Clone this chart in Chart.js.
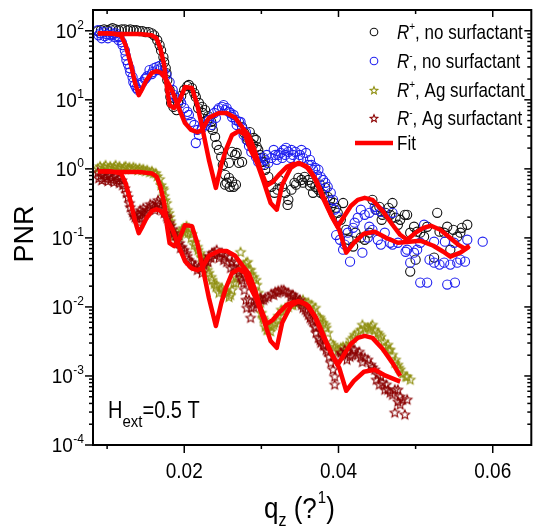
<!DOCTYPE html>
<html>
<head>
<meta charset="utf-8">
<script src="https://cdn.jsdelivr.net/npm/chart.js@4.4.1/dist/chart.umd.min.js"></script>
<style>
  html, body { margin: 0; padding: 0; background: #fff; }
  canvas { display: block; }
</style>
</head>
<body>
<canvas id="pnr" width="537" height="529"></canvas>
<script>
// ---- R+ , no surfactant (black circles) ----
const blackQ = [0.0088,0.0092,0.0096,0.0100,0.0104,0.0107,0.0111,0.0115,0.0119,0.0123,0.0127,0.0130,0.0134,0.0138,0.0142,0.0146,0.0150,0.0154,0.0158,0.0161,
  0.0165,0.0168,0.0170,0.0173,0.0174,0.0176,0.0177,0.0178,0.0181,0.0182,0.0183,0.0186,0.0190,0.0192,0.0196,0.0200,0.0204,0.0206,0.0210,0.0213,
  0.0215,0.0219,0.0223,0.0227,0.0231,0.0235,0.0237,0.0240,0.0242,0.0245,0.0248,0.0250,0.0253,0.0255,0.0258,0.0258,0.0259,0.0262,0.0262,0.0264,
  0.0266,0.0267,0.0268,0.0271,0.0275,0.0275,0.0278,0.0282,0.0286,0.0290,0.0294,0.0298,0.0302,0.0305,0.0309,0.0313,0.0317,0.0321,0.0323,0.0327,
  0.0331,0.0334,0.0335,0.0339,0.0343,0.0348,0.0352,0.0356,0.0361,0.0365,0.0370,0.0374,0.0377,0.0383,0.0386,0.0390,0.0394,0.0399,0.0403,0.0406,
  0.0410,0.0413,0.0419,0.0422,0.0429,0.0434,0.0440,0.0444,0.0449,0.0453,0.0457,0.0461,0.0465,0.0470,0.0474,0.0480,0.0486,0.0489,0.0493,0.0493,
  0.0498,0.0500,0.0502,0.0506,0.0511,0.0515,0.0524,0.0528,0.0531,0.0537,0.0541,0.0545,0.0549,0.0554,0.0558,0.0560,0.0567,
  0.0218,0.0224,0.0230,0.0234,0.0281,0.0285,0.0289,0.0293,0.0296,0.0299,0.0304,0.0253,0.0345,0.0354,0.0363,0.0367,0.0376,0.0381,0.0389,0.0397,
  0.0456,0.0467,0.0477];
const blackR = [99,102,105,102,105,109,105,102,105,105,102,105,102,102,99,99,95.5,95.5,92,86,
  73,62,52,41.5,35,28.8,24.4,19.3,13.9,11,9,7.9,7.1,9,11.4,13.9,15.8,16.4,14.8,12.5,
  11,9,7.9,7.1,5.8,4.78,3.66,2.9,2.22,1.88,1.49,1.14,0.82,0.63,0.74,1.22,0.55,1.76,0.65,0.55,
  1.59,0.59,1.70,1.22,1.26,4.05,3.31,2.62,2.37,2.8,2.08,1.59,1.26,0.97,0.766,0.55,0.45,0.50,0.69,0.55,
  0.45,0.30,0.356,0.50,0.628,0.74,0.69,0.766,0.69,0.628,0.55,0.50,0.45,0.53,0.394,0.282,0.32,0.231,0.183,0.32,
  0.131,0.094,0.075,0.119,0.101,0.094,0.119,0.356,0.256,0.282,0.216,0.231,0.273,0.32,0.196,0.183,0.216,0.216,0.119,0.0325,
  0.145,0.0484,0.123,0.119,0.104,0.145,0.0518,0.231,0.123,0.119,0.145,0.0675,0.131,0.104,0.119,0.14,0.155,
  7.6,6.44,5.1,4.05,2.9,3.4,2.22,2.62,1.88,1.44,1.14,0.59,0.59,0.63,0.57,0.45,0.59,0.42,0.356,0.273,
  0.183,0.216,0.155];

// ---- R- , no surfactant (blue circles) ----
const blueQ = [0.0088,0.0089,0.0091,0.0093,0.0096,0.0097,0.0100,0.0101,0.0104,0.0105,0.0107,0.0110,0.0111,0.0114,0.0115,0.0116,0.0119,0.0120,0.0123,0.0124,
  0.0125,0.0127,0.0129,0.0130,0.0133,0.0134,0.0136,0.0138,0.0140,0.0142,0.0143,0.0146,0.0149,0.0150,0.0152,0.0155,0.0158,0.0159,0.0161,0.0164,
  0.0165,0.0168,0.0170,0.0173,0.0177,0.0181,0.0185,0.0187,0.0190,0.0194,0.0196,0.0200,0.0204,0.0206,0.0209,0.0213,0.0215,0.0217,0.0219,0.0223,
  0.0228,0.0232,0.0236,0.0241,0.0245,0.0249,0.0253,0.0258,0.0262,0.0267,0.0271,0.0275,0.0277,0.0281,0.0284,0.0287,0.0293,0.0296,0.0300,0.0305,
  0.0309,0.0313,0.0318,0.0322,0.0325,0.0329,0.0331,0.0335,0.0339,0.0344,0.0348,0.0352,0.0358,0.0361,0.0365,0.0370,0.0374,0.0377,0.0380,0.0386,
  0.0390,0.0393,0.0395,0.0399,0.0402,0.0406,0.0412,0.0415,0.0421,0.0429,0.0431,0.0438,0.0440,0.0440,0.0447,0.0448,0.0455,0.0455,0.0460,0.0467,
  0.0470,0.0470,0.0477,0.0487,0.0489,0.0493,0.0498,0.0502,0.0506,0.0506,0.0511,0.0515,0.0518,0.0524,0.0524,0.0531,0.0537,0.0538,0.0541,0.0545,
  0.0550,0.0551,0.0554,0.0558,0.0564,0.0567,0.0587,
  0.0239,0.0243,0.0251,0.0255,0.0260,0.0264,0.0268,0.0273,0.0280,0.0303,0.0307,0.0316,0.0320,0.0327,0.0332,0.0338,0.0341,0.0350,0.0354,0.0363,
  0.0367,0.0372,0.0383,0.0397,0.0408,0.0419,0.0425,0.0434,0.0444,0.0451];
const blueR = [102,86,92,78,95.5,83.5,89,78,95.5,86,89,80.9,92,83.5,73,81,68.4,62,52,44,
  37.6,33,28.8,25.2,21.3,18.1,16.4,14.8,13.9,16.4,17.5,18.1,20,20.6,22,27,23.6,25.2,28.8,29.8,
  27,30.9,28.8,25.2,22.8,18.1,13.9,11.7,10.6,9.9,9,7.6,6.7,6.03,4.78,4.32,2.37,3.66,3.1,3.9,
  4.32,5.1,4.32,5.46,7.6,7.9,7.1,6.7,5.64,5.1,4.78,3.9,3.1,2.62,2.15,1.76,1.49,1.26,1.14,1.35,
  1.22,1.44,1.59,1.59,1.70,1.88,1.59,1.76,1.88,1.76,1.35,1.88,1.70,1.14,1.14,1.03,0.97,0.766,0.69,0.55,
  0.45,0.356,0.256,0.202,0.094,0.0675,0.119,0.0453,0.166,0.256,0.061,0.101,0.145,0.231,0.282,0.256,0.239,0.080,0.119,0.085,
  0.231,0.080,0.085,0.063,0.0675,0.0438,0.061,0.0675,0.085,0.0225,0.155,0.0225,0.0484,0.0438,0.088,0.041,0.0438,0.088,0.0211,0.041,
  0.085,0.0225,0.0438,0.0484,0.0453,0.094,0.088,
  6.44,7.1,8.4,7.6,6.44,6.03,4.32,4.78,3.4,1.44,1.59,1.88,1.35,1.44,2.01,1.44,1.59,1.59,1.44,1.35,
  0.97,0.82,0.628,0.11,0.08,0.14,0.196,0.216,0.131,0.094];

// ---- R+ , Ag surfactant (olive stars) ----
const oliveQ = [0.0088,0.0091,0.0093,0.0096,0.0098,0.0101,0.0104,0.0106,0.0109,0.0111,0.0114,0.0116,0.0119,0.0122,0.0124,0.0127,0.0129,0.0132,0.0134,0.0137,
  0.0140,0.0142,0.0145,0.0147,0.0150,0.0152,0.0155,0.0158,0.0160,0.0163,0.0165,0.0168,0.0170,0.0173,0.0174,0.0177,0.0178,0.0181,0.0183,0.0185,
  0.0187,0.0191,0.0195,0.0199,0.0203,0.0206,0.0210,0.0214,0.0218,0.0222,0.0226,0.0228,0.0232,0.0236,0.0239,0.0241,0.0245,0.0248,0.0251,0.0254,
  0.0258,0.0262,0.0264,0.0267,0.0271,0.0273,0.0276,0.0280,0.0284,0.0287,0.0290,0.0294,0.0296,0.0299,0.0300,0.0303,0.0305,0.0309,0.0313,0.0316,
  0.0318,0.0322,0.0326,0.0331,0.0335,0.0339,0.0344,0.0348,0.0352,0.0357,0.0361,0.0365,0.0370,0.0374,0.0377,0.0380,0.0384,0.0386,0.0390,0.0395,
  0.0399,0.0403,0.0406,0.0410,0.0412,0.0416,0.0421,0.0425,0.0429,0.0434,0.0438,0.0442,0.0447,0.0451,0.0455,0.0459,0.0461,0.0465,0.0467,0.0473,
  0.0477,0.0480,0.0483,0.0487,0.0489,0.0493,
  0.0172,0.0175,0.0180,0.0182,0.0186,0.0194,0.0197,0.0201,0.0205,0.0209,0.0213,0.0217,0.0221,0.0225,0.0230,0.0235,0.0242,0.0249,0.0255,0.0260,
  0.0268,0.0277,0.0282,0.0286,0.0293,0.0298,0.0302,0.0307,0.0312,0.0321,0.0328,0.0341,0.0354,0.0367,0.0376,0.0383,0.0393,0.0402,0.0419,0.0431,
  0.0440,0.0444,0.0453,0.0464,0.0470,0.0474,0.0478];
const oliveR = [1.03,1.10,0.97,1.07,1.14,1.03,1.10,1.00,1.07,1.14,1.03,1.10,1.00,1.07,1.10,1.03,1.07,1.00,1.07,1.03,
  0.97,1.03,0.97,1.00,0.935,0.97,0.905,0.935,0.875,0.875,0.79,0.717,0.587,0.50,0.407,0.323,0.256,0.202,0.155,0.131,
  0.108,0.101,0.119,0.14,0.15,0.14,0.115,0.088,0.0675,0.0535,0.0453,0.0384,0.0314,0.0249,0.0218,0.0197,0.0162,0.0178,0.0167,0.0178,
  0.0141,0.0178,0.0225,0.0225,0.0314,0.063,0.0371,0.0438,0.0347,0.0304,0.0275,0.0211,0.0162,0.0116,0.0083,0.00658,0.00521,0.00471,0.00521,0.00557,
  0.00595,0.0075,0.0092,0.0098,0.0101,0.0108,0.0116,0.012,0.012,0.0116,0.0116,0.0108,0.0098,0.00726,0.00658,0.00595,0.00504,0.00427,0.00306,0.00259,
  0.00242,0.00259,0.00268,0.00277,0.00268,0.00338,0.00399,0.00427,0.00471,0.00504,0.00504,0.00521,0.00471,0.00427,0.00373,0.00316,0.00268,0.00242,0.00242,0.00157,
  0.00147,0.00125,0.00109,0.000987,0.000987,0.000893,
  0.53,0.356,0.231,0.177,0.119,0.108,0.131,0.123,0.119,0.101,0.08,0.075,0.061,0.0518,0.0347,0.0275,0.0211,0.019,0.0162,0.0151,
  0.0265,0.041,0.0453,0.0347,0.0249,0.0137,0.00703,0.00471,0.00448,0.00658,0.0087,0.0108,0.0128,0.0092,0.00703,0.00557,0.00286,0.00227,0.00361,0.00557,
  0.00471,0.00557,0.00399,0.00286,0.00205,0.00174,0.00133];

// ---- R- , Ag surfactant (dark red stars) ----
const darkQ = [0.0088,0.0089,0.0092,0.0093,0.0096,0.0097,0.0100,0.0101,0.0104,0.0105,0.0107,0.0109,0.0111,0.0113,0.0115,0.0116,0.0119,0.0120,0.0123,0.0125,
  0.0129,0.0133,0.0136,0.0138,0.0141,0.0142,0.0145,0.0146,0.0149,0.0152,0.0155,0.0159,0.0161,0.0165,0.0168,0.0170,0.0174,0.0178,0.0181,0.0185,
  0.0187,0.0191,0.0194,0.0197,0.0200,0.0203,0.0206,0.0210,0.0214,0.0219,0.0223,0.0226,0.0228,0.0232,0.0236,0.0239,0.0242,0.0246,0.0249,0.0253,
  0.0258,0.0262,0.0264,0.0267,0.0271,0.0275,0.0277,0.0280,0.0281,0.0284,0.0286,0.0290,0.0294,0.0296,0.0300,0.0305,0.0309,0.0313,0.0318,0.0322,
  0.0326,0.0331,0.0335,0.0339,0.0341,0.0345,0.0348,0.0352,0.0357,0.0361,0.0365,0.0369,0.0371,0.0374,0.0377,0.0381,0.0384,0.0388,0.0390,0.0393,
  0.0395,0.0395,0.0399,0.0403,0.0408,0.0412,0.0415,0.0419,0.0421,0.0425,0.0429,0.0434,0.0438,0.0442,0.0447,0.0451,0.0455,0.0457,0.0460,0.0464,
  0.0467,0.0473,0.0477,0.0480,0.0483,0.0489,0.0480,0.0473,0.0486,
  0.0127,0.0130,0.0134,0.0140,0.0143,0.0147,0.0151,0.0156,0.0162,0.0166,0.0172,0.0177,0.0182,0.0189,0.0195,0.0204,0.0209,0.0217,0.0222,0.0231,
  0.0235,0.0240,0.0245,0.0251,0.0255,0.0260,0.0268,0.0273,0.0278,0.0287,0.0293,0.0299,0.0303,0.0316,0.0321,0.0329,0.0338,0.0344,0.0350,0.0354,
  0.0359,0.0363,0.0367,0.0371,0.0376,0.0380,0.0386,0.0406,0.0411,0.0417,0.0427,0.0431,0.0444,0.0449,0.0453,0.0462,0.0470,0.0477];
const darkR = [0.905,0.74,0.82,0.69,0.847,0.74,0.79,0.671,0.82,0.717,0.766,0.65,0.79,0.69,0.74,0.628,0.69,0.587,0.53,0.45,
  0.323,0.239,0.202,0.196,0.172,0.216,0.196,0.239,0.224,0.256,0.282,0.30,0.282,0.323,0.312,0.282,0.231,0.196,0.166,0.136,
  0.119,0.094,0.085,0.0746,0.0675,0.061,0.0484,0.0438,0.0397,0.0384,0.0314,0.041,0.0484,0.0553,0.061,0.063,0.0675,0.061,0.061,0.0553,
  0.0535,0.0453,0.0384,0.0453,0.0314,0.0249,0.0225,0.0128,0.0098,0.0128,0.00703,0.0101,0.0112,0.012,0.0128,0.0137,0.0141,0.0156,0.0167,0.0173,
  0.0178,0.0167,0.0162,0.0151,0.0151,0.0128,0.012,0.0108,0.0092,0.00777,0.00658,0.00521,0.00427,0.00361,0.00306,0.00277,0.00242,0.00192,0.00157,0.00125,
  0.000987,0.000757,0.00192,0.00219,0.00242,0.00227,0.00192,0.00242,0.00242,0.00205,0.00192,0.00186,0.00174,0.00147,0.00125,0.00105,0.000987,0.00081,0.00064,0.00064,
  0.00058,0.00064,0.00064,0.000507,0.000459,0.000459,0.000389,0.000298,0.000279,
  0.394,0.282,0.216,0.224,0.256,0.273,0.239,0.312,0.256,0.356,0.256,0.209,0.15,0.108,0.072,0.0553,0.0453,0.0347,0.0371,0.0453,
  0.0518,0.057,0.0518,0.0484,0.0453,0.0371,0.0347,0.0275,0.0178,0.0098,0.0128,0.0137,0.0128,0.0151,0.0162,0.0178,0.0141,0.0141,0.0128,0.0098,
  0.0086,0.00703,0.0062,0.00504,0.00338,0.00286,0.00227,0.00205,0.00174,0.00205,0.00227,0.00161,0.00135,0.000893,0.000757,0.000757,0.00054,0.00043];

// ---- fits (red) ----
const fitPlusQ = [0.0088,0.0116,0.0142,0.0158,0.0164,0.0169,0.0174,0.0178,0.0181,0.0187,0.0194,0.0201,0.0210,0.0217,0.0224,0.0232,0.0241,0.0248,0.0254,0.0262,
  0.0271,0.0279,0.0286,0.0294,0.0303,0.0312,0.0320,0.0327,0.0338,0.0348,0.0358,0.0369,0.0381,0.0392,0.0401,0.0410,0.0420,0.0433,0.0447,0.0461,
  0.0477,0.0492,0.0506,0.0523,0.0536,0.0545,0.0558,0.0569];
const fitPlusR = [92,90,90,86,78,56,32,13.9,8.4,7.6,9.9,15.3,14.8,8.4,3.66,1.35,0.53,1.14,1.88,3.1,
  3.54,3.1,1.88,1.26,0.65,0.32,0.256,0.59,1.03,1.22,1.10,0.74,0.356,0.196,0.131,0.061,0.085,0.115,0.123,0.101,
  0.085,0.088,0.091,0.077,0.063,0.0535,0.061,0.074];
const fitMinusQ = [0.0088,0.0104,0.0118,0.0124,0.0131,0.0136,0.0141,0.0146,0.0151,0.0158,0.0164,0.0170,0.0177,0.0185,0.0194,0.0201,0.0209,0.0217,0.0223,0.0232,
  0.0245,0.0255,0.0266,0.0276,0.0284,0.0291,0.0299,0.0307,0.0315,0.0324,0.0333,0.0342,0.0351,0.0361,0.0371,0.0381,0.0390,0.0399,0.0407,0.0416,
  0.0425,0.0434,0.0444,0.0457,0.0470,0.0480,0.0489,0.0500,0.0510,0.0520,0.0532,0.0543,0.0555,0.0564,0.0570];
const fitMinusR = [92,92,86,62,32,18,11.7,14.8,19.3,24.5,26,24.5,19.3,13,7.1,4.6,3.66,3.4,3.66,5.5,
  6.44,6.44,5.5,3.9,3.0,1.88,0.97,0.57,0.65,0.85,1.07,1.18,1.18,1.03,0.69,0.38,0.223,0.145,0.202,0.29,
  0.356,0.38,0.356,0.248,0.155,0.111,0.094,0.119,0.14,0.15,0.131,0.104,0.08,0.07,0.077];
const fitAgPlusQ = [0.0088,0.0116,0.0142,0.0158,0.0164,0.0169,0.0174,0.0178,0.0181,0.0187,0.0194,0.0201,0.0210,0.0217,0.0224,0.0232,0.0241,0.0248,0.0254,0.0262,
  0.0271,0.0279,0.0286,0.0294,0.0303,0.0312,0.0320,0.0327,0.0338,0.0348,0.0358,0.0369,0.0381,0.0392,0.0401,0.0410,0.0420,0.0433,0.0447,0.0461,0.0480];
const fitAgPlusR = [0.92,0.9,0.9,0.86,0.78,0.56,0.32,0.139,0.084,0.076,0.099,0.153,0.148,0.084,0.0366,0.0135,0.0053,0.0114,0.0188,0.031,
  0.0354,0.031,0.0188,0.0126,0.0065,0.0032,0.00256,0.0059,0.0103,0.0122,0.011,0.0074,0.00356,0.00196,0.00131,0.00061,0.00085,0.00115,0.00123,0.00101,0.00083];
const fitAgMinusQ = [0.0088,0.0104,0.0118,0.0124,0.0131,0.0136,0.0141,0.0146,0.0151,0.0158,0.0164,0.0170,0.0177,0.0185,0.0194,0.0201,0.0209,0.0217,0.0223,0.0232,
  0.0245,0.0255,0.0266,0.0276,0.0284,0.0291,0.0299,0.0307,0.0315,0.0324,0.0333,0.0342,0.0351,0.0361,0.0371,0.0381,0.0390,0.0399,0.0407,0.0416,
  0.0425,0.0434,0.0444,0.0457,0.0470,0.0480];
const fitAgMinusR = [0.92,0.92,0.86,0.62,0.32,0.18,0.117,0.148,0.193,0.245,0.26,0.245,0.193,0.13,0.071,0.046,0.0366,0.034,0.0366,0.055,
  0.0644,0.0644,0.055,0.039,0.030,0.0188,0.0097,0.0057,0.0065,0.0085,0.0107,0.0118,0.0118,0.0103,0.0069,0.0038,0.00223,0.00145,0.00202,0.0029,
  0.00356,0.0038,0.00356,0.00248,0.00155,0.00100];

// ---- axes ----
const xMajor = [0.02, 0.04, 0.06];
const xMinor = [0.01, 0.03, 0.05];
const yExp = [-4, -3, -2, -1, 0, 1, 2];

const FONT = '"Liberation Sans", Arial, sans-serif';
const RED = '#ff0000', BLACK = '#111111', BLUE = '#2020f0', OLIVE = '#8f8f10', DARK = '#8b0000';

const pts = (qs, rs) => qs.map((q, i) => ({ x: q, y: rs[i] }));

function starImage(color, r) {
  const c = document.createElement('canvas');
  const s = Math.ceil(r * 2 + 4);
  c.width = s; c.height = s;
  const g = c.getContext('2d');
  g.translate(s / 2, s / 2 + 0.6);
  g.beginPath();
  for (let i = 0; i < 10; i++) {
    const rad = i % 2 ? r * 0.45 : r;
    const a = -Math.PI / 2 + i * Math.PI / 5;
    g.lineTo(rad * Math.cos(a), rad * Math.sin(a));
  }
  g.closePath();
  g.strokeStyle = color;
  g.lineWidth = 1.1;
  g.stroke();
  return c;
}

function txt(ctx, s, x, y, size, opt = {}) {
  ctx.save();
  ctx.font = (opt.italic ? 'italic ' : '') + size + 'px ' + FONT;
  ctx.textAlign = opt.align || 'left';
  ctx.textBaseline = 'alphabetic';
  ctx.fillStyle = '#000';
  ctx.translate(x, y);
  ctx.scale(1, opt.sy || 1.15);
  ctx.fillText(s, 0, 0);
  const w = ctx.measureText(s).width;
  ctx.restore();
  return w;
}

function scatterSet(label, qs, rs, color, order, star) {
  return {
    label, data: pts(qs, rs), order,
    showLine: false,
    pointStyle: star ? starImage(color, 4.9) : 'circle',
    pointRadius: 4.6,
    pointBorderWidth: 1.1,
    borderColor: color,
    backgroundColor: 'rgba(0,0,0,0)'
  };
}

function fitSet(qs, rs) {
  return {
    label: 'Fit', data: pts(qs, rs), order: 0,
    showLine: true, pointRadius: 0, borderColor: RED,
    borderWidth: 4.5, tension: 0, borderJoinStyle: 'round', fill: false
  };
}

const frame = {
  id: 'frame',
  afterDraw(chart) {
    const { ctx, chartArea: a, scales: { x, y } } = chart;
    ctx.save();
    ctx.strokeStyle = '#000';
    ctx.lineWidth = 2;
    ctx.strokeRect(a.left, a.top, a.right - a.left, a.bottom - a.top);

    ctx.lineWidth = 1.5;
    const line = (x1, y1, x2, y2) => { ctx.beginPath(); ctx.moveTo(x1, y1); ctx.lineTo(x2, y2); ctx.stroke(); };

    // x ticks
    xMajor.forEach(v => {
      const px = x.getPixelForValue(v);
      line(px, a.bottom, px, a.bottom + 8);
      line(px, a.top, px, a.top + 7);
      txt(ctx, String(v), px, a.bottom + 33, 19, { align: 'center', sy: 1.2 });
    });
    xMinor.forEach(v => {
      const px = x.getPixelForValue(v);
      line(px, a.bottom, px, a.bottom + 4);
      line(px, a.top, px, a.top + 4);
    });

    // y ticks (log)
    yExp.forEach(e => {
      const py = y.getPixelForValue(Math.pow(10, e));
      line(a.left - 8, py, a.left, py);
      line(a.right - 7, py, a.right, py);
      const ew = txt(ctx, String(e), 84, py - 2, 12, { align: 'right', sy: 1.1 });
      txt(ctx, '10', 84 - ew - 0.5, py + 7, 19, { align: 'right', sy: 1.1 });
      if (e < 2) {
        for (let m = 2; m <= 9; m++) {
          const pm = y.getPixelForValue(m * Math.pow(10, e));
          line(a.left - 4, pm, a.left, pm);
          line(a.right - 4, pm, a.right, pm);
        }
      }
    });

    // axis titles
    ctx.save();
    ctx.translate(33, 234);
    ctx.rotate(-Math.PI / 2);
    ctx.font = '27px ' + FONT;
    ctx.textAlign = 'center';
    ctx.fillStyle = '#000';
    ctx.fillText('PNR', 0, 0);
    ctx.restore();

    let cx = 264;
    cx += txt(ctx, 'q', cx, 518, 26, { sy: 1.15 });
    cx += txt(ctx, 'z', cx, 526, 16, { sy: 1.1 });
    cx += txt(ctx, ' (?', cx, 518, 26, { sy: 1.15 });
    cx += txt(ctx, '1', cx + 1, 503, 15, { sy: 1.1 }) + 1;
    txt(ctx, ')', cx, 518, 26, { sy: 1.15 });

    // H_ext annotation
    let hx = 108;
    hx += txt(ctx, 'H', hx, 418, 20, { sy: 1.2 });
    hx += txt(ctx, 'ext', hx, 427, 15, { sy: 1.15 });
    txt(ctx, '=0.5 T', hx, 418, 20, { sy: 1.2 });

    // legend
    const rows = [
      { sup: '+', rest: ', no surfactant', color: BLACK, star: false, y: 32 },
      { sup: '-', rest: ', no surfactant', color: BLUE, star: false, y: 61 },
      { sup: '+', rest: ', Ag surfactant', color: OLIVE, star: true, y: 90 },
      { sup: '-', rest: ', Ag surfactant', color: DARK, star: true, y: 118 }
    ];
    rows.forEach(r => {
      if (r.star) {
        const img = starImage(r.color, 4);
        ctx.drawImage(img, 374 - img.width / 2, r.y - img.height / 2);
      } else {
        ctx.beginPath();
        ctx.arc(374, r.y, 3.8, 0, Math.PI * 2);
        ctx.strokeStyle = r.color;
        ctx.lineWidth = 1.1;
        ctx.stroke();
      }
      let lx = 397;
      lx += txt(ctx, 'R', lx, r.y + 7, 17, { italic: true });
      lx += txt(ctx, r.sup, lx, r.y - 2, 10, { sy: 1.1 });
      txt(ctx, r.rest, lx, r.y + 7, 17);
    });
    ctx.strokeStyle = RED;
    ctx.lineWidth = 4.5;
    line(355, 143, 393, 143);
    txt(ctx, 'Fit', 397, 150, 17);
    ctx.restore();
  }
};

new Chart(document.getElementById('pnr'), {
  type: 'scatter',
  data: {
    datasets: [
      fitSet(fitPlusQ, fitPlusR),
      fitSet(fitMinusQ, fitMinusR),
      fitSet(fitAgPlusQ, fitAgPlusR),
      fitSet(fitAgMinusQ, fitAgMinusR),
      scatterSet('R+, no surfactant', blackQ, blackR, BLACK, 4, false),
      scatterSet('R-, no surfactant', blueQ, blueR, BLUE, 3, false),
      scatterSet('R+, Ag surfactant', oliveQ, oliveR, OLIVE, 2, true),
      scatterSet('R-, Ag surfactant', darkQ, darkR, DARK, 1, true)
    ]
  },
  options: {
    responsive: false,
    animation: false,
    layout: { padding: { left: 93, right: 2, top: 10, bottom: 84 } },
    plugins: { legend: { display: false }, tooltip: { enabled: false } },
    scales: {
      x: { type: 'linear', min: 0.00817, max: 0.065, display: false },
      y: { type: 'logarithmic', min: 1e-4, max: 200, display: false }
    }
  },
  plugins: [frame]
});
</script>
</body>
</html>
